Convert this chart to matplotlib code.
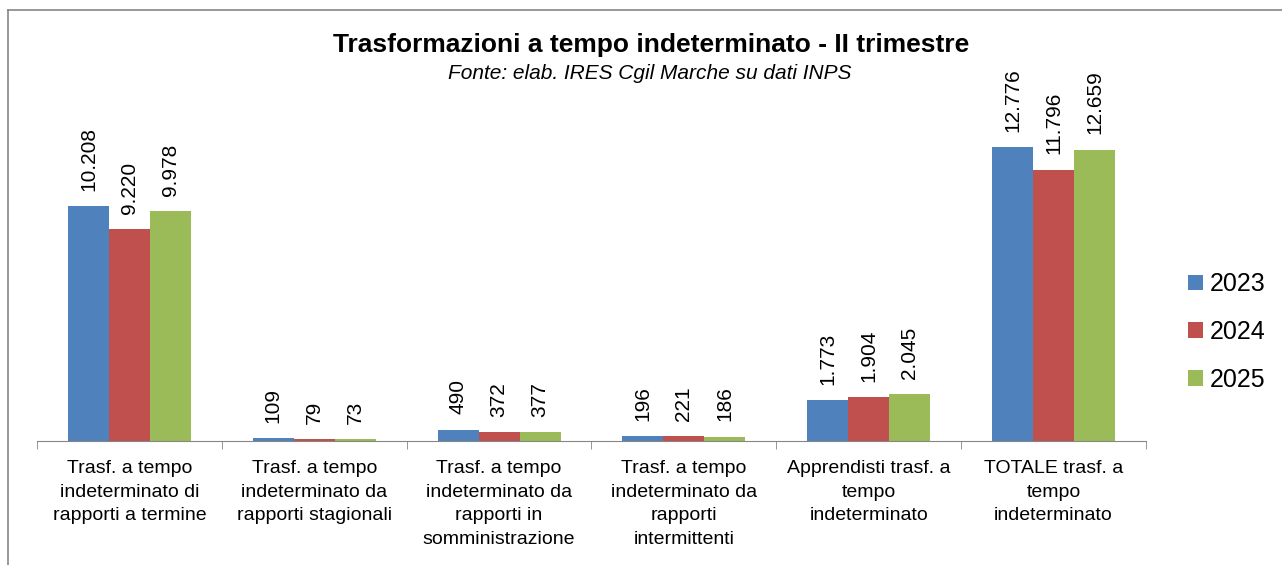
import matplotlib.pyplot as plt
import numpy as np

categories = [
    "Trasf. a tempo\nindeterminato di\nrapporti a termine",
    "Trasf. a tempo\nindeterminato da\nrapporti stagionali",
    "Trasf. a tempo\nindeterminato da\nrapporti in\nsomministrazione",
    "Trasf. a tempo\nindeterminato da\nrapporti\nintermittenti",
    "Apprendisti trasf. a\ntempo\nindeterminato",
    "TOTALE trasf. a\ntempo\nindeterminato",
]
years = ["2023", "2024", "2025"]
v2023 = [10208, 109, 490, 196, 1773, 12776]
v2024 = [9220, 79, 372, 221, 1904, 11796]
v2025 = [9978, 73, 377, 186, 2045, 12659]
colors = ["#4F81BD", "#C0504D", "#9BBB59"]

plt.rcParams["font.family"] = ["Liberation Sans", "DejaVu Sans"]

W, H = 1282, 565
fig = plt.figure(figsize=(W / 100, H / 100), dpi=100)
ax = fig.add_axes([37 / W, 1 - 441 / H, (1146 - 37) / W, (441 - 60) / H])

x = np.arange(len(categories))
bw = 0.222
for i, (vals, yr) in enumerate(zip([v2023, v2024, v2025], years)):
    pos = x + (i - 1) * bw
    ax.bar(pos, vals, bw, color=colors[i], label=yr, zorder=2)
    for p, v in zip(pos, vals):
        ax.annotate(f"{v:,}".replace(",", "."), (p, v), xytext=(0, 11),
                    textcoords="offset points", rotation=90,
                    ha="center", va="bottom", fontsize=15)

ax.set_xlim(-0.5, len(categories) - 0.5)
ax.set_ylim(0, 16560)
for s in ["top", "right", "left"]:
    ax.spines[s].set_visible(False)
ax.spines["bottom"].set_color("#868686")
ax.set_yticks([])
ax.set_xticks(x)
ax.set_xticklabels(categories, fontsize=14, linespacing=1.5)
ax.tick_params(axis="x", which="major", length=0, pad=14)
ax.set_xticks(np.arange(-0.5, len(categories)), minor=True)
ax.tick_params(axis="x", which="minor", length=6, color="#868686", direction="out")

fig.text(651 / W, 1 - 45 / H, "Trasformazioni a tempo indeterminato - II trimestre",
         ha="center", va="center", fontsize=19, fontweight="bold")
fig.text(650 / W, 1 - 73 / H, "Fonte: elab. IRES Cgil Marche su dati INPS",
         ha="center", va="center", fontsize=15, style="italic")

fig.legend(loc="center left", bbox_to_anchor=(1165 / W, 1 - 332 / H), frameon=False,
           fontsize=18, handlelength=0.6, handleheight=0.6, handletextpad=0.3,
           labelspacing=0.95)

# chart border (only top and left edges visible in the crop)
fig.add_artist(plt.Line2D([8 / W, 8 / W], [0, 1 - 10 / H], color="#868686", lw=1.2))
fig.add_artist(plt.Line2D([8 / W, 1], [1 - 10 / H, 1 - 10 / H], color="#868686", lw=1.2))

fig.savefig("out.png", dpi=100)
